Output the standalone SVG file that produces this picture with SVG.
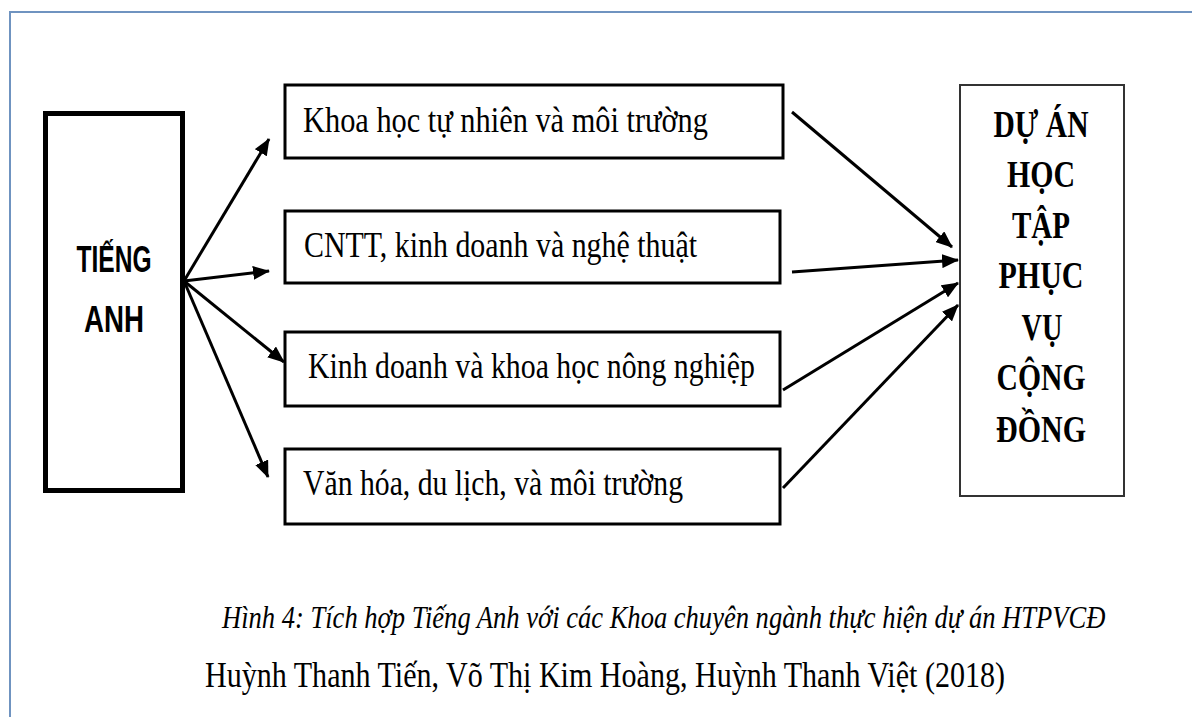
<svg xmlns="http://www.w3.org/2000/svg" width="1192" height="717" viewBox="0 0 1192 717">
<defs>
<style>
.box{fill:#fff;stroke:#000;stroke-width:3}
.t{font-family:"Liberation Serif","Times New Roman",serif;font-size:35px;fill:#000}
.rb{font-family:"Liberation Serif","Times New Roman",serif;font-size:37px;font-weight:bold;fill:#000;text-anchor:middle}
.lb{font-family:"Liberation Sans",Arial,sans-serif;font-size:37px;font-weight:bold;fill:#000;text-anchor:middle}
.cap{font-family:"Liberation Serif","Times New Roman",serif;fill:#000}
.c{stroke:#000;stroke-width:3;fill:none;marker-end:url(#ah)}
</style>
<marker id="ah" markerUnits="userSpaceOnUse" markerWidth="17" markerHeight="14" refX="16" refY="7" orient="auto">
<path d="M0,0 L17,7 L0,14 z" fill="#000"/>
</marker>
</defs>
<rect width="1192" height="717" fill="#fff"/>
<path d="M10,717 L10,12 L1192,12" fill="none" stroke="#6f93c0" stroke-width="2"/>

<g id="tieng-anh">
<rect x="45.5" y="113.5" width="137" height="377" fill="#fff" stroke="#000" stroke-width="5"/>
<text class="lb" x="114" y="272" textLength="75" lengthAdjust="spacingAndGlyphs">TIẾNG</text>
<text class="lb" x="114" y="332" textLength="60" lengthAdjust="spacingAndGlyphs">ANH</text>
</g>

<g id="khoa-hoc-tu-nhien">
<rect class="box" x="285" y="85" width="498" height="73"/>
<text class="t" x="303" y="132" textLength="405" lengthAdjust="spacingAndGlyphs">Khoa học tự nhiên và  môi trường</text>
</g>

<g id="cntt">
<rect class="box" x="285" y="211" width="495" height="72"/>
<text class="t" x="304" y="257" textLength="393" lengthAdjust="spacingAndGlyphs">CNTT, kinh doanh và nghệ thuật</text>
</g>

<g id="kinh-doanh">
<rect class="box" x="285" y="332" width="495" height="74"/>
<text class="t" x="308" y="378" textLength="447" lengthAdjust="spacingAndGlyphs">Kinh doanh và khoa học nông nghiệp</text>
</g>

<g id="van-hoa">
<rect class="box" x="285" y="449" width="495" height="75"/>
<text class="t" x="303" y="495" textLength="380" lengthAdjust="spacingAndGlyphs">Văn hóa, du lịch, và môi trường</text>
</g>

<g id="du-an">
<rect x="960" y="85" width="164" height="411" fill="#fff" stroke="#333" stroke-width="2"/>
<text class="rb" x="1041" y="137" textLength="95" lengthAdjust="spacingAndGlyphs">DỰ ÁN</text>
<text class="rb" x="1041" y="187" textLength="68" lengthAdjust="spacingAndGlyphs">HỌC</text>
<text class="rb" x="1041" y="238" textLength="58" lengthAdjust="spacingAndGlyphs">TẬP</text>
<text class="rb" x="1041" y="288" textLength="85" lengthAdjust="spacingAndGlyphs">PHỤC</text>
<text class="rb" x="1042" y="340" textLength="41" lengthAdjust="spacingAndGlyphs">VỤ</text>
<text class="rb" x="1041" y="390" textLength="89" lengthAdjust="spacingAndGlyphs">CỘNG</text>
<text class="rb" x="1041" y="442" textLength="90" lengthAdjust="spacingAndGlyphs">ĐỒNG</text>
</g>

<g id="connectors">
<line class="c" x1="184" y1="281" x2="269" y2="139"/>
<line class="c" x1="184" y1="281" x2="269" y2="271"/>
<line class="c" x1="184" y1="281" x2="284" y2="362"/>
<line class="c" x1="184" y1="281" x2="268" y2="477"/>
<line class="c" x1="792" y1="112" x2="952" y2="247"/>
<line class="c" x1="792" y1="272" x2="958" y2="260"/>
<line class="c" x1="783" y1="390" x2="958" y2="283"/>
<line class="c" x1="783" y1="488" x2="958" y2="305"/>
</g>

<text class="cap" transform="translate(222,628) scale(0.83,1)" x="0" y="0" font-size="32" font-style="italic">Hình 4: Tích hợp Tiếng Anh với các Khoa chuyên ngành thực hiện dự án HTPVCĐ</text>
<text class="cap" x="205" y="687" font-size="35" textLength="800" lengthAdjust="spacingAndGlyphs">Huỳnh Thanh Tiến, Võ Thị Kim Hoàng, Huỳnh Thanh Việt (2018)</text>
</svg>
